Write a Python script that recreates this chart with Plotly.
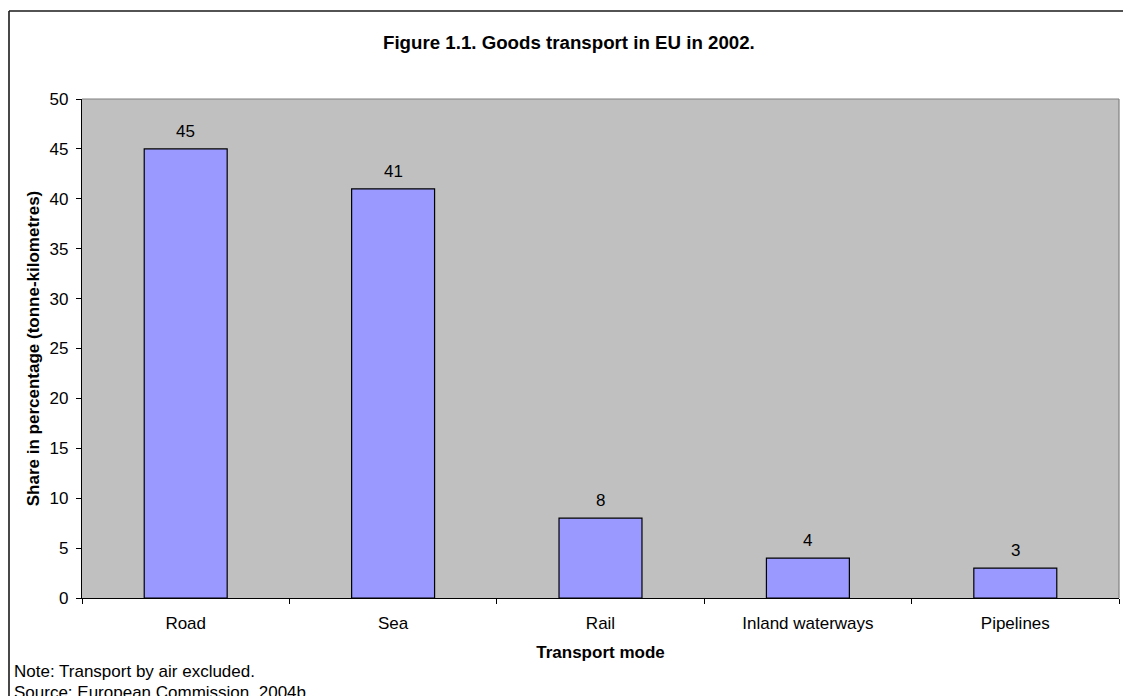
import plotly.graph_objects as go

# ---- data ----
categories = ["Road", "Sea", "Rail", "Inland waterways", "Pipelines"]
shares = [45, 41, 8, 4, 3]
y_ticks = [0, 5, 10, 15, 20, 25, 30, 35, 40, 45, 50]

title_text = "<b>Figure 1.1. Goods transport in EU in 2002.</b>"
x_title = "<b>Transport mode</b>"
y_title = "<b>Share in percentage (tonne-kilometres)</b>"
note_text = "Note: Transport by air excluded."
source_text = "Source: European Commission, 2004b."

# ---- layout geometry (pixels) ----
W, H = 1123, 696
L, R, T, B = 82, 4, 99, 98
PW = W - L - R
PH = H - T - B

def px(x):
    return (x - L) / PW

def py(y):
    return (H - B - y) / PH

FONT = "Arial, Liberation Sans, sans-serif"

fig = go.Figure()
fig.add_trace(go.Bar(
    x=categories, y=shares,
    width=0.4,
    marker=dict(color="#9999FF", line=dict(color="#000000", width=1.2)),
    hoverinfo="x+y",
))

annotations = []
for c, v in zip(categories, shares):
    annotations.append(dict(
        x=c, y=v, xref="x", yref="y", text=str(v), showarrow=False,
        yanchor="middle", xanchor="center", yshift=17.5,
        font=dict(family=FONT, size=17, color="#000000"),
    ))

annotations += [
    dict(x=px(569), y=py(42), xref="paper", yref="paper", text=title_text,
         showarrow=False, xanchor="center", yanchor="middle",
         font=dict(family=FONT, size=18.7, color="#000000")),
    dict(x=px(12), y=py(671), xref="paper", yref="paper", text=note_text,
         showarrow=False, xanchor="left", yanchor="middle",
         font=dict(family=FONT, size=17, color="#000000")),
    dict(x=px(12), y=py(692), xref="paper", yref="paper", text=source_text,
         showarrow=False, xanchor="left", yanchor="middle",
         font=dict(family=FONT, size=17, color="#000000")),
]

shapes = [
    # outer chart border (left and top)
    dict(type="line", xref="paper", yref="paper", x0=px(9), x1=px(W + 5),
         y0=py(11), y1=py(11), line=dict(color="#1a1a1a", width=1.6)),
    dict(type="line", xref="paper", yref="paper", x0=px(9), x1=px(9),
         y0=py(11), y1=py(H + 5), line=dict(color="#1a1a1a", width=1.6)),
    # plot area top/right border (gray)
    dict(type="line", xref="paper", yref="paper", x0=0, x1=1, y0=1, y1=1,
         line=dict(color="#808080", width=1.2)),
    dict(type="line", xref="paper", yref="paper", x0=1, x1=1, y0=0, y1=1,
         line=dict(color="#808080", width=1.2)),
]

fig.update_layout(
    width=W, height=H,
    margin=dict(l=L, r=R, t=T, b=B, pad=0),
    paper_bgcolor="#FFFFFF",
    plot_bgcolor="#C0C0C0",
    showlegend=False,
    font=dict(family=FONT, size=17, color="#000000"),
    bargap=0.6,
    annotations=annotations,
    shapes=shapes,
    xaxis=dict(
        type="category",
        showgrid=False,
        showline=True, linecolor="#000000", linewidth=1.2,
        ticks="outside", ticklen=5, tickcolor="#000000", tickwidth=1,
        tickson="boundaries",
        tickfont=dict(family=FONT, size=17, color="#000000"),
        ticklabelstandoff=9,
        title=dict(text=x_title, font=dict(family=FONT, size=17, color="#000000"), standoff=14),
        zeroline=False,
    ),
    yaxis=dict(
        range=[0, 50],
        tickmode="array", tickvals=y_ticks, ticktext=[str(t) for t in y_ticks],
        showgrid=False,
        showline=True, linecolor="#000000", linewidth=1.2,
        ticks="outside", ticklen=5, tickcolor="#000000", tickwidth=1,
        tickfont=dict(family=FONT, size=17, color="#000000"),
        ticklabelstandoff=4,
        title=dict(text=y_title, font=dict(family=FONT, size=17, color="#000000"), standoff=5),
        zeroline=False,
    ),
)

fig.write_html(
    "out.html",
    config={"displayModeBar": False},
    post_script="document.body.style.margin='0';document.body.style.overflow='hidden';",
)
